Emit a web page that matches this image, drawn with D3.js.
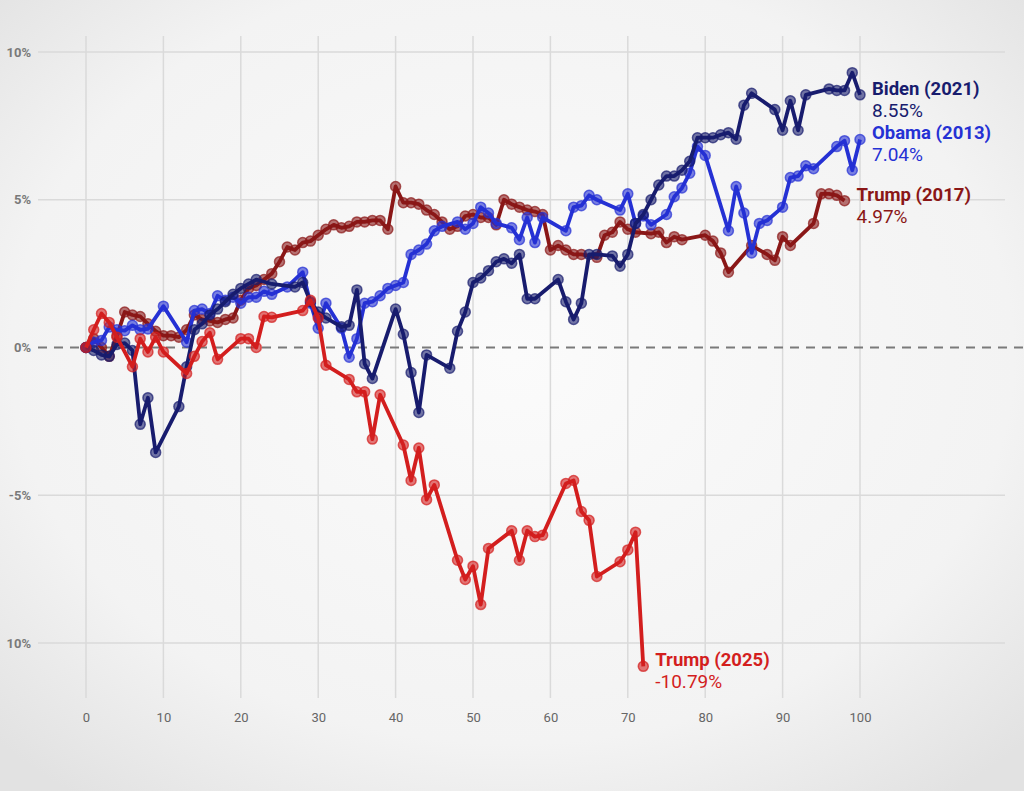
<!DOCTYPE html>
<html>
<head>
<meta charset="utf-8">
<script src="https://cdn.jsdelivr.net/npm/d3@7"></script>
<style>
  html, body { margin: 0; padding: 0; }
  body { width: 1024px; height: 791px; overflow: hidden; }
  svg { display: block; }
</style>
</head>
<body>
<div id="chart"></div>
<script>
// [trading day, % change]
const trump2017 = [
  [0, 0], [1, 0.3], [2, 0.0], [3, -0.3], [4, 0.4], [5, 1.2], [6, 1.1], [7, 1.05],
  [8, 0.8], [9, 0.55], [10, 0.4], [11, 0.4], [12, 0.35], [13, 0.6], [14, 1.1],
  [15, 0.95], [16, 0.9], [17, 0.85], [18, 0.95], [19, 1.0], [20, 1.6], [21, 2.0],
  [22, 2.1], [23, 2.3], [24, 2.5], [25, 2.9], [26, 3.4], [27, 3.3], [28, 3.55],
  [29, 3.6], [30, 3.8], [31, 4.0], [32, 4.15], [33, 4.05], [34, 4.1], [35, 4.25],
  [36, 4.25], [37, 4.3], [38, 4.3], [39, 4.0], [40, 5.45], [41, 4.9], [42, 4.9],
  [43, 4.85], [44, 4.65], [45, 4.5], [46, 4.25], [47, 4.0], [48, 4.1], [49, 4.45],
  [50, 4.5], [51, 4.4], [52, 4.4], [53, 4.15], [54, 5.0], [55, 4.85], [56, 4.75],
  [57, 4.65], [58, 4.6], [59, 4.5], [60, 3.3], [61, 3.45], [62, 3.3], [63, 3.15],
  [64, 3.15], [66, 3.05], [67, 3.8], [68, 3.9], [69, 4.25], [70, 4.0], [71, 3.9],
  [73, 3.85], [74, 3.9], [75, 3.55], [76, 3.75], [77, 3.65], [80, 3.8], [81, 3.6],
  [82, 3.2], [83, 2.55], [86, 3.45], [88, 3.15], [89, 2.95], [90, 3.75], [91, 3.45],
  [94, 4.2], [95, 5.2], [96, 5.2], [97, 5.15], [98, 4.97]
];

const obama2013 = [
  [0, 0], [1, 0.18], [2, 0.24], [3, 0.69], [4, 0.6], [5, 0.57], [6, 0.75], [7, 0.6],
  [8, 0.63], [10, 1.4], [13, 0.18], [14, 1.25], [15, 1.3], [16, 1.15], [17, 1.75],
  [18, 1.6], [19, 1.7], [20, 1.5], [21, 1.7], [22, 1.7], [23, 1.9], [24, 1.8],
  [26, 2.05], [28, 2.55], [29, 1.5], [30, 0.65], [31, 1.5], [33, 0.65], [34, -0.33],
  [35, 0.3], [36, 1.5], [37, 1.55], [38, 1.75], [39, 2.0], [40, 2.1], [41, 2.2],
  [42, 3.15], [43, 3.3], [44, 3.5], [45, 3.95], [46, 4.1], [48, 4.25], [49, 4.0],
  [50, 4.2], [51, 4.75], [52, 4.55], [53, 4.2], [55, 4.05], [56, 3.65], [57, 4.4],
  [58, 3.55], [59, 4.4], [62, 3.95], [63, 4.75], [64, 4.8], [65, 5.15], [66, 5.0],
  [69, 4.65], [70, 5.2], [71, 4.2], [72, 4.45], [73, 4.15], [75, 4.5], [76, 5.1],
  [77, 5.4], [78, 5.9], [79, 6.8], [80, 6.5], [83, 3.95], [84, 5.45], [85, 4.55],
  [86, 3.2], [87, 4.2], [88, 4.3], [90, 4.75], [91, 5.75], [92, 5.8], [93, 6.15],
  [94, 6.05], [97, 6.8], [98, 7.0], [99, 6.0], [100, 7.04]
];

const biden2021 = [
  [0, 0], [1, -0.1], [2, -0.25], [3, -0.3], [4, 0.1], [5, 0.15], [6, -0.1],
  [7, -2.6], [8, -1.7], [9, -3.55], [12, -2.0], [13, -0.65], [14, 0.6], [15, 0.8],
  [16, 1.1], [17, 1.3], [18, 1.55], [19, 1.8], [20, 2.0], [21, 2.15], [22, 2.3],
  [24, 2.15], [27, 2.05], [28, 2.2], [29, 1.55], [30, 1.2], [31, 1.0], [33, 0.7],
  [34, 0.75], [35, 1.95], [36, -0.55], [37, -1.05], [40, 1.3], [41, 0.45],
  [42, -0.85], [43, -2.2], [44, -0.25], [47, -0.7], [48, 0.55], [49, 1.2], [50, 2.2],
  [51, 2.35], [52, 2.6], [53, 2.9], [54, 3.0], [55, 2.85], [56, 3.15], [57, 1.65],
  [58, 1.65], [61, 2.3], [62, 1.55], [63, 0.95], [64, 1.5], [65, 3.15], [66, 3.15],
  [68, 3.1], [69, 2.75], [70, 3.15], [71, 4.2], [72, 4.5], [73, 5.0], [74, 5.5],
  [75, 5.8], [76, 5.8], [77, 6.0], [78, 6.3], [79, 7.1], [80, 7.1], [81, 7.1],
  [82, 7.2], [83, 7.27], [84, 7.05], [85, 8.2], [86, 8.6], [89, 8.05], [90, 7.35],
  [91, 8.35], [92, 7.35], [93, 8.55], [96, 8.75], [97, 8.7], [98, 8.7], [99, 9.3],
  [100, 8.55]
];

const trump2025 = [
  [0, 0], [1, 0.6], [2, 1.15], [3, 0.85], [4, 0.35], [6, -0.65], [7, 0.3],
  [8, -0.15], [9, 0.35], [10, -0.15], [13, -0.88], [14, -0.3], [15, 0.2], [16, 0.5],
  [17, -0.4], [20, 0.3], [21, 0.3], [22, 0.0], [23, 1.05], [24, 1.02], [28, 1.25],
  [29, 1.6], [30, 1.0], [31, -0.6], [34, -1.08], [35, -1.5], [36, -1.5], [37, -3.1],
  [38, -1.6], [41, -3.3], [42, -4.5], [43, -3.4], [44, -5.15], [45, -4.65],
  [48, -7.2], [49, -7.85], [50, -7.4], [51, -8.7], [52, -6.8], [55, -6.2],
  [56, -7.2], [57, -6.2], [58, -6.4], [59, -6.35], [62, -4.6], [63, -4.5],
  [64, -5.55], [65, -5.85], [66, -7.75], [69, -7.25], [70, -6.85], [71, -6.25],
  [72, -10.79]
];

const seriesNames = ['Trump (2017)', 'Obama (2013)', 'Biden (2021)', 'Trump (2025)'];
const seriesFinal = ['4.97%', '7.04%', '8.55%', '-10.79%'];
const seriesColors = ['#8a1717', '#2531d4', '#181c6e', '#d31e1e'];

const xTicks = [0, 10, 20, 30, 40, 50, 60, 70, 80, 90, 100];
const yTicks = [-10, -5, 0, 5, 10];
const yTickLabels = ['10%', '-5%', '0%', '5%', '10%'];

const w = 1024;
const h = 791;

const xScale = d3.scaleLinear().domain([0, 100]).range([86, 860]);
const yScale = d3.scaleLinear().domain([-10, 10]).range([643, 52]);

const svg = d3
  .select('#chart')
  .append('svg')
  .attr('width', w)
  .attr('height', h);

// photo-like background
const defs = svg.append('defs');
const bg = defs
  .append('radialGradient')
  .attr('id', 'bg')
  .attr('cx', '50%')
  .attr('cy', '45%')
  .attr('r', '70%');
bg.append('stop').attr('offset', '0%').attr('stop-color', '#fbfbfb');
bg.append('stop').attr('offset', '70%').attr('stop-color', '#f3f3f3');
bg.append('stop').attr('offset', '100%').attr('stop-color', '#e2e2e2');

svg.append('rect').attr('width', w).attr('height', h).attr('fill', 'url(#bg)');

// grid
svg
  .append('g')
  .selectAll('line')
  .data(xTicks)
  .enter()
  .append('line')
  .attr('x1', (d) => xScale(d))
  .attr('x2', (d) => xScale(d))
  .attr('y1', 36)
  .attr('y2', 698)
  .attr('stroke', '#dadada')
  .attr('stroke-width', 1.5);

svg
  .append('g')
  .selectAll('line')
  .data(yTicks.filter((d) => d !== 0))
  .enter()
  .append('line')
  .attr('x1', 38)
  .attr('x2', 1005)
  .attr('y1', (d) => yScale(d))
  .attr('y2', (d) => yScale(d))
  .attr('stroke', '#dadada')
  .attr('stroke-width', 1.5);

svg
  .append('line')
  .attr('x1', 38)
  .attr('x2', 1024)
  .attr('y1', yScale(0))
  .attr('y2', yScale(0))
  .attr('stroke', '#7a7a7a')
  .attr('stroke-width', 2)
  .attr('stroke-dasharray', '9,7');

// axes
const xAxis = d3
  .axisBottom(xScale)
  .tickValues(xTicks)
  .tickSize(0)
  .tickPadding(14)
  .tickFormat(d3.format('d'));

svg
  .append('g')
  .attr('transform', 'translate(0,' + 699 + ')')
  .call(xAxis)
  .call((g) => g.select('.domain').remove())
  .selectAll('text')
  .attr('fill', '#666')
  .style('font-family', 'Roboto, sans-serif')
  .style('font-size', '13px');

const yAxis = d3
  .axisLeft(yScale)
  .tickValues(yTicks)
  .tickSize(0)
  .tickPadding(0)
  .tickFormat((d, i) => yTickLabels[i]);

svg
  .append('g')
  .attr('transform', 'translate(31,0)')
  .call(yAxis)
  .call((g) => g.select('.domain').remove())
  .selectAll('text')
  .attr('fill', '#7a7a7a')
  .style('font-family', 'Roboto, sans-serif')
  .style('font-weight', 'bold')
  .style('font-size', '13px');

// lines
const allSeries = [trump2017, obama2013, biden2021, trump2025];

const line = d3
  .line()
  .x((d) => xScale(d[0]))
  .y((d) => yScale(d[1]));

allSeries.forEach((data, i) => {
  const color = seriesColors[i];
  const g = svg.append('g');

  g.append('path')
    .datum(data)
    .attr('d', line)
    .attr('fill', 'none')
    .attr('stroke', color)
    .attr('stroke-width', 3.8)
    .attr('stroke-linejoin', 'round');

  g.selectAll('circle')
    .data(data)
    .enter()
    .append('circle')
    .attr('cx', (d) => xScale(d[0]))
    .attr('cy', (d) => yScale(d[1]))
    .attr('r', 5)
    .attr('fill', color)
    .attr('fill-opacity', 0.6)
    .attr('stroke', color)
    .attr('stroke-opacity', 0.7)
    .attr('stroke-width', 1.5);

  const last = data[data.length - 1];
  const lx = xScale(last[0]) + 12;
  const ly = yScale(last[1]);

  g.append('text')
    .attr('x', lx)
    .attr('y', ly)
    .attr('fill', color)
    .style('font-family', 'Roboto, sans-serif')
    .style('font-weight', 'bold')
    .style('font-size', '18.5px')
    .text(seriesNames[i]);

  g.append('text')
    .attr('x', lx)
    .attr('y', ly + 22)
    .attr('fill', color)
    .style('font-family', 'Roboto, sans-serif')
    .style('font-size', '19px')
    .text(seriesFinal[i]);
});
</script>
</body>
</html>
